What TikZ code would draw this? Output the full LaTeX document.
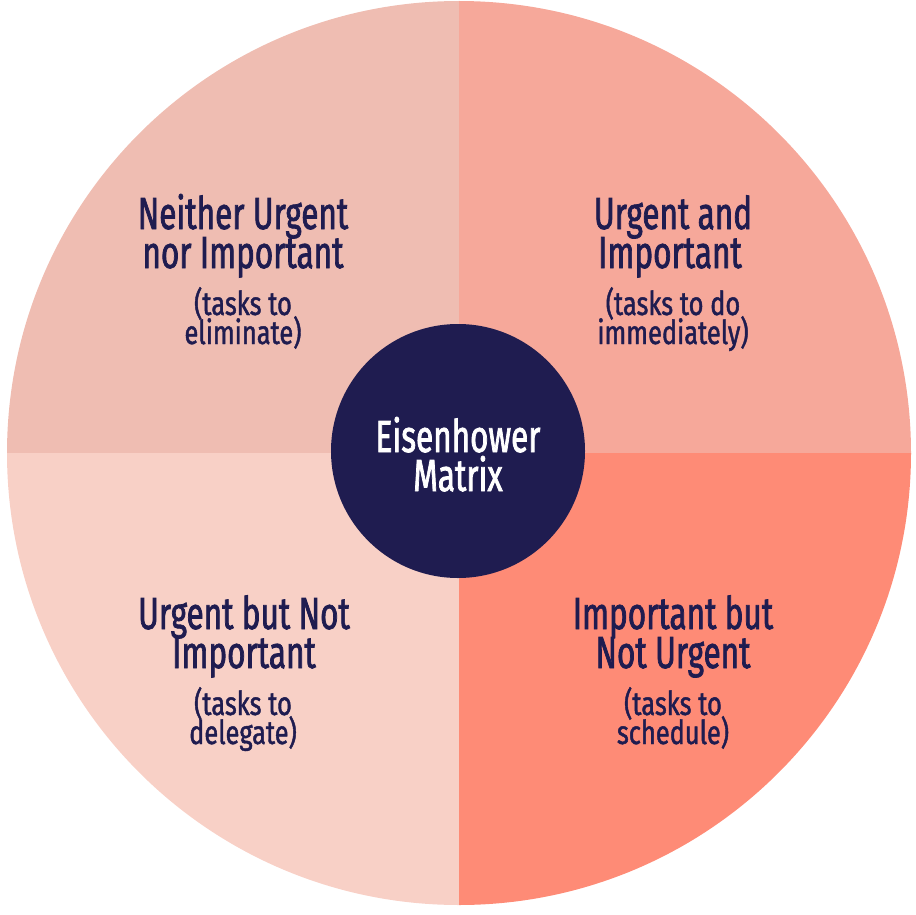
\documentclass[tikz,border=0pt]{standalone}
\usepackage{fontspec}
\newfontfamily\ttlfont[FakeStretch=0.70,FakeBold=1.6]{Fira Sans}
\newfontfamily\subfont[FakeStretch=0.77,FakeBold=1.3]{Fira Sans}
\definecolor{qtl}{HTML}{EFBDB2}
\definecolor{qtr}{HTML}{F6A89A}
\definecolor{qbl}{HTML}{F8D0C6}
\definecolor{qbr}{HTML}{FE8B76}
\definecolor{navy}{HTML}{1F1C50}
\begin{document}
\begin{tikzpicture}[x=1pt,y=-1pt,
  title/.style={text=navy,anchor=base,font=\ttlfont\fontsize{45}{45}\selectfont,inner sep=0pt,text height=31pt,text depth=6pt},
  sub/.style={text=navy,anchor=base,font=\subfont\fontsize{33}{33}\selectfont,inner sep=0pt,text height=23pt,text depth=5pt},
  ctitle/.style={title,text=white}]
\useasboundingbox (0,0) rectangle (915,915);
\coordinate (c) at (459,453);
\begin{scope}\clip (c) rectangle (0,0); \fill[qtl] (c) circle[radius=452]; \end{scope}
\begin{scope}\clip (c) rectangle (915,0); \fill[qtr] (c) circle[radius=452]; \end{scope}
\begin{scope}\clip (c) rectangle (0,915); \fill[qbl] (c) circle[radius=452]; \end{scope}
\begin{scope}\clip (c) rectangle (915,915); \fill[qbr] (c) circle[radius=452]; \end{scope}
\node[circle,fill=navy,minimum size=254pt,inner sep=0pt] (hub) at (458,451) {};
\node[ctitle] (h1) at (458,452) {Eisenhower};
\node[ctitle] (h2) at (458,491) {Matrix};
\node[title] (tl1) at (243,229) {Neither Urgent};
\node[title] (tl2) at (243,268) {nor Important};
\node[sub] (tl3) at (243,315) {(tasks to};
\node[sub] (tl4) at (243,344) {eliminate)};
\node[title] (tr1) at (673,229) {Urgent and};
\node[title] (tr2) at (670,268) {Important};
\node[sub] (tr3) at (673,315) {(tasks to do};
\node[sub] (tr4) at (673,344) {immediately)};
\node[title] (bl1) at (244,629) {Urgent but Not};
\node[title] (bl2) at (244,668) {Important};
\node[sub] (bl3) at (243,715) {(tasks to};
\node[sub] (bl4) at (243,744) {delegate)};
\node[title] (br1) at (673,629) {Important but};
\node[title] (br2) at (673,668) {Not Urgent};
\node[sub] (br3) at (673,715) {(tasks to};
\node[sub] (br4) at (673,744) {schedule)};
\end{tikzpicture}
\end{document}
